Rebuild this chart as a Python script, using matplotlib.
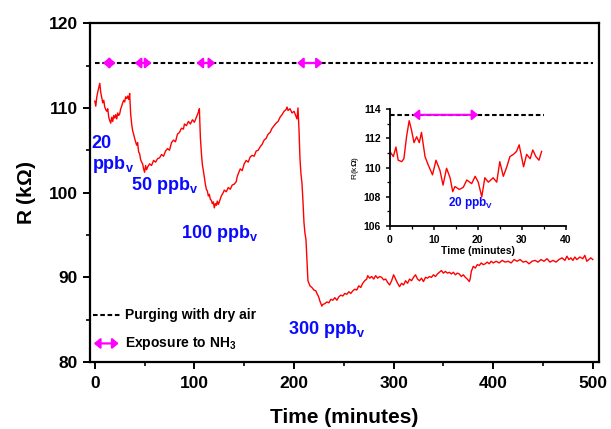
import matplotlib
matplotlib.use("Agg")
import matplotlib.pyplot as plt
from matplotlib.ticker import MultipleLocator

# main trace: resistance (kOhm) vs time (minutes)
time_min = [0, 1, 2, 3, 4, 5, 6, 7, 8, 9, 10, 11, 12, 13, 14, 15, 16, 17, 18, 19,
            20, 21, 22, 23, 24, 25, 26, 27, 28, 29, 30, 31, 32, 33, 34, 35, 36, 37, 38, 39,
            40, 42, 43, 44, 45, 46, 47, 48, 49, 50, 51, 52, 53, 55, 57, 59, 61, 63, 65, 67,
            69, 71, 73, 75, 77, 79, 81, 83, 85, 87, 89, 90, 92, 94, 96, 98, 100, 102, 104, 105,
            106, 107, 108, 109, 110, 111, 112, 113, 114, 115, 116, 117, 118, 119, 120, 121, 122, 123, 124, 125,
            127, 129, 130, 132, 134, 136, 138, 140, 142, 143, 144, 146, 148, 150, 152, 154, 156, 158, 160, 162,
            164, 166, 168, 170, 172, 174, 176, 178, 180, 182, 184, 186, 188, 190, 192, 193, 194, 196, 198, 200,
            202, 203, 204, 205, 206, 207, 208, 209, 210, 211, 212, 213, 214, 215, 216, 218, 220, 222, 223, 224,
            225, 226, 227, 228, 229, 231, 233, 235, 237, 239, 241, 243, 245, 247, 249, 251, 253, 255, 257, 259,
            261, 263, 265, 267, 269, 271, 273, 274, 276, 278, 280, 282, 284, 286, 288, 290, 292, 294, 296, 298,
            300, 302, 304, 306, 308, 310, 312, 314, 316, 318, 320, 322, 324, 326, 328, 330, 332, 334, 336, 338,
            340, 342, 344, 346, 348, 350, 352, 354, 356, 358, 360, 362, 364, 366, 368, 370, 372, 374, 376, 377,
            378, 380, 382, 384, 386, 388, 390, 392, 394, 396, 398, 400, 403, 406, 409, 412, 415, 418, 421, 424,
            427, 430, 433, 436, 439, 442, 445, 448, 451, 454, 457, 460, 463, 466, 469, 472, 474, 476, 478, 480,
            482, 484, 487, 490, 492, 494, 496, 498, 500]
resistance = [110.8, 110.2, 111.3, 111.9, 112.4, 112.9, 111.8, 111.2, 110.6, 110.9, 110.1, 109.8, 109.6, 109.9, 108.9, 108.5, 108.2, 108.9, 108.4, 109.1,
              108.8, 109.2, 108.7, 109.4, 109.1, 109.3, 109.9, 110.2, 110.6, 110.9, 110.7, 111.3, 111.1, 111.4, 111.0, 111.7, 109.3, 108.1, 107.3, 106.9,
              106.4, 105.6, 105.9, 104.8, 104.6, 103.9, 103.6, 103.4, 102.8, 102.4, 103.2, 102.7, 103.0, 103.4, 103.2, 103.8, 103.6, 104.0, 104.1, 104.5,
              104.3, 104.9, 105.2, 105.0, 105.9, 106.2, 106.0, 106.9, 107.1, 107.6, 107.5, 108.1, 107.9, 108.4, 108.1, 108.6, 108.3, 108.9, 109.5, 109.9,
              106.5, 104.7, 103.3, 102.6, 101.8, 101.0, 100.4, 100.2, 99.6, 99.8, 99.2, 99.1, 98.7, 98.9, 98.2, 98.7, 98.5, 99.0, 98.6, 98.9,
              99.6, 100.0, 100.3, 100.1, 100.6, 100.4, 100.9, 101.0, 101.3, 101.9, 102.2, 102.8, 102.6, 103.4, 103.8, 103.6, 104.2, 104.4, 104.3, 104.9,
              105.0, 105.4, 105.7, 106.2, 106.4, 106.9, 107.1, 107.6, 107.9, 108.2, 108.4, 108.9, 109.2, 109.6, 109.8, 110.1, 109.7, 109.9, 109.4, 109.6,
              109.0, 108.7, 110.0, 107.5, 104.0, 102.2, 101.1, 99.0, 96.5, 95.2, 94.5, 92.0, 89.6, 89.3, 89.0, 88.8, 88.5, 88.4, 88.1, 87.9,
              87.6, 87.2, 86.9, 86.6, 86.8, 86.9, 87.1, 87.0, 87.4, 87.3, 87.6, 87.3, 87.7, 87.9, 87.8, 88.1, 88.0, 88.3, 88.1, 88.4,
              88.6, 88.5, 89.0, 88.8, 89.3, 89.6, 89.8, 90.2, 89.9, 90.1, 89.8, 90.2, 89.9, 90.1, 90.0, 89.7, 89.8, 89.4, 89.1, 89.6,
              90.3, 89.8, 89.3, 88.9, 89.3, 89.1, 89.6, 89.3, 89.8, 89.6, 90.0, 90.3, 89.8, 89.6, 89.9, 89.5, 90.0, 89.9, 90.1, 90.0,
              90.3, 90.1, 90.4, 90.6, 90.8, 90.5, 90.7, 90.5, 90.6, 90.4, 90.6, 90.3, 90.5, 90.4, 90.1, 90.3, 90.0, 89.8, 89.5, 89.9,
              90.7, 91.3, 91.1, 91.5, 91.4, 91.7, 91.5, 91.6, 91.8, 91.6, 91.9, 91.7, 91.9, 91.7, 92.0, 91.8, 91.9, 91.7, 92.1, 91.9,
              92.1, 91.8, 91.9, 91.6, 91.9, 92.0, 91.8, 92.1, 91.9, 92.2, 91.8, 92.0, 91.8, 92.1, 92.3, 92.0, 92.5, 92.1, 92.3, 92.0,
              92.4, 92.1, 92.4, 92.2, 92.6, 91.9, 92.1, 92.3, 92.1]

# exposure windows (start, end) in minutes and the purge baseline level
exposures = [(8, 21), (40, 57), (102, 121), (203, 229)]
purge_level = 115.3
conc_labels = ["20\nppb$_{\\mathbf{v}}$", "50 ppb$_{\\mathbf{v}}$", "100 ppb$_{\\mathbf{v}}$", "300 ppb$_{\\mathbf{v}}$"]
conc_pos = [(-3, 106.8), (36, 100.3), (87, 94.6), (194, 83.3)]

# inset: first 35 minutes of a 20 ppbv exposure
inset_time = [0, 0.8, 1.4, 1.9, 2.7, 3.2, 3.8, 4.4, 4.9, 5.5, 6.1, 6.7, 7.2, 8.0, 8.7, 9.7, 10.5, 11.4, 12.1, 12.9,
              13.7, 14.3, 14.8, 15.8, 16.7, 17.5, 18.6, 19.4, 20.1, 20.9, 21.6, 22.4, 23.5, 24.3, 25.0, 25.8, 26.6, 27.3, 28.1, 28.8,
              29.4, 30.4, 31.1, 31.9, 32.5, 33.2, 33.9, 34.5]
inset_res = [111.1, 110.75, 111.4, 110.5, 110.4, 110.6, 112.1, 113.2, 112.6, 111.7, 112.1, 111.7, 112.4, 110.75, 110.2, 109.5, 110.5, 109.8, 108.8, 109.95,
             109.3, 108.35, 108.7, 108.5, 108.65, 109.15, 108.9, 109.4, 109.0, 108.0, 109.3, 109.0, 109.3, 109.0, 110.4, 109.4, 110.05, 110.75, 110.9, 111.1,
             111.55, 110.05, 110.9, 110.6, 111.2, 110.75, 110.5, 111.1]
inset_exposure = (5.2, 20.1)
inset_purge = 113.6

plt.rcParams['font.family'] = 'Liberation Sans'
plt.rcParams['font.weight'] = 'bold'
plt.rcParams['mathtext.fontset'] = 'custom'
plt.rcParams['mathtext.bf'] = 'Liberation Sans:bold'
plt.rcParams['mathtext.rm'] = 'Liberation Sans:bold'

BLUE = '#0a0aff'
MAGENTA = '#ff00ff'
DASH = (0, (2.2, 1.3))


def arrow(ax, x0, x1, y, lw=1.6, scale=6):
    # double-headed magenta arrow marking an exposure window
    ax.annotate('', xy=(x1, y), xytext=(x0, y),
                arrowprops=dict(arrowstyle='<|-|>,head_length=0.6,head_width=0.5',
                                color=MAGENTA, lw=lw, mutation_scale=scale,
                                shrinkA=0, shrinkB=0))


fig = plt.figure(figsize=(6.11, 4.29), dpi=100)
ax = fig.add_axes([0.147, 0.156, 0.833, 0.790])

ax.plot(time_min, resistance, color='red', lw=1)
ax.plot([0, 500], [purge_level, purge_level], color='black', lw=1.5, ls=DASH)
for t0, t1 in exposures:
    arrow(ax, t0, t1, purge_level)

for lab, (x, y) in zip(conc_labels, conc_pos):
    va = 'top' if '\n' in lab else 'baseline'
    ax.text(x, y, lab, color=BLUE, fontsize=13, fontweight='bold', ha='left', va=va, linespacing=1.15)

# hand-made legend
ax.plot([-2, 25], [85.6, 85.6], color='black', lw=1.5, ls=DASH)
ax.text(30, 85.6, 'Purging with dry air', fontsize=10, fontweight='bold', va='center')
arrow(ax, -1, 24, 82.2)
ax.text(30, 82.2, 'Exposure to NH$_{\\mathbf{3}}$', fontsize=10, fontweight='bold', va='center')

ax.set_xlim(-5, 506)
ax.set_ylim(80, 120)
ax.xaxis.set_major_locator(MultipleLocator(100))
ax.xaxis.set_minor_locator(MultipleLocator(50))
ax.yaxis.set_major_locator(MultipleLocator(10))
ax.yaxis.set_minor_locator(MultipleLocator(5))
ax.tick_params(which='major', direction='out', length=5, width=1.4, labelsize=12.5)
ax.tick_params(axis='x', which='major', pad=5)
ax.tick_params(which='minor', direction='out', length=3, width=1.2)
for sp in ax.spines.values():
    sp.set_linewidth(1.6)
ax.set_xlabel('Time (minutes)', fontsize=15, fontweight='bold', labelpad=12)
ax.set_ylabel('R (k$\\Omega$)', fontsize=15, fontweight='bold', labelpad=8)

# inset
axi = fig.add_axes([0.638, 0.473, 0.288, 0.273])
axi.plot(inset_time, inset_res, color='red', lw=1)
axi.plot([0, 35], [inset_purge, inset_purge], color='black', lw=1.5, ls=DASH)
arrow(axi, inset_exposure[0], inset_exposure[1], inset_purge, lw=1.5, scale=6)
axi.text(18.5, 107.4, '20 ppb$_{\\mathbf{V}}$', color=BLUE, fontsize=8.5, fontweight='bold', ha='center', va='baseline')
axi.set_xlim(0, 40)
axi.set_ylim(106, 114)
axi.xaxis.set_major_locator(MultipleLocator(10))
axi.xaxis.set_minor_locator(MultipleLocator(5))
axi.yaxis.set_major_locator(MultipleLocator(2))
axi.yaxis.set_minor_locator(MultipleLocator(1))
axi.spines['top'].set_visible(False)
axi.spines['right'].set_visible(False)
for sp in ('left', 'bottom'):
    axi.spines[sp].set_linewidth(1.3)
axi.tick_params(which='major', direction='out', length=3, width=1.1, labelsize=7.5)
axi.tick_params(which='minor', direction='out', length=2, width=0.9)
axi.set_xlabel('Time (minutes)', fontsize=7.5, fontweight='bold', labelpad=1)
axi.set_ylabel('R(k$\\Omega$)', fontsize=6, fontweight='normal', labelpad=2)
axi.patch.set_alpha(0)

fig.savefig('out.png', dpi=100)
